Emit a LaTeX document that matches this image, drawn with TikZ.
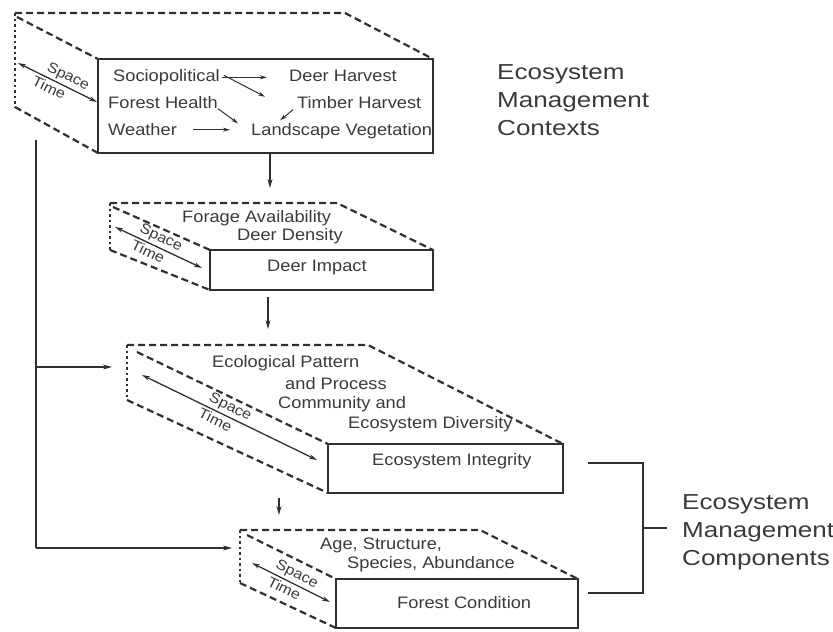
\documentclass[tikz,border=0pt]{standalone}
\usepackage{fontspec}
\setmainfont{Liberation Sans}[FakeStretch=1.1]
\newfontfamily\labelfont{Liberation Sans}[FakeStretch=1.2]
\usetikzlibrary{arrows.meta,calc}
\definecolor{inkc}{HTML}{303030}
\definecolor{textc}{HTML}{3A3A3A}
\begin{document}
\begin{tikzpicture}[x=1pt,y=-1pt,
  solidbox/.style={draw=inkc, line width=2.6pt, inner sep=0pt, outer sep=0pt, anchor=north west},
  dashedge/.style={draw=inkc, line width=2.2pt, dash pattern=on 7pt off 4pt},
  dotedge/.style={draw=inkc, line width=2.4pt, dash pattern=on 2.5pt off 3pt},
  txt/.style={text=textc, font=\fontsize{16.6}{19}\selectfont, inner sep=0pt, anchor=mid west},
  st/.style={text=textc, font=\fontsize{14.5}{16}\selectfont, inner sep=2.2pt, sloped},
  conn/.style={draw=inkc, line width=1.2pt, -{Stealth[length=9pt,width=5pt]}},
  smallconn/.style={draw=inkc, line width=1pt, -{Stealth[length=7pt,width=4pt]}},
  plainline/.style={draw=inkc, line width=1.3pt},
  stv/.style={draw=inkc, line width=1.3pt, {Stealth[length=8pt,width=4.5pt]}-{Stealth[length=8pt,width=4.5pt]}},
  lab/.style={text=textc, font=\labelfont\fontsize{21.7}{28}\selectfont, align=left, anchor=west, inner sep=0pt},
]
\useasboundingbox (0,0) rectangle (833,632);

% ---------- Box 1: contexts ----------
\node[solidbox, minimum width=335, minimum height=94] (b1) at (98,59) {};
\coordinate (t1) at (15,13); \coordinate (r1) at (345,13); \coordinate (l1) at (15,107);
\coordinate (i1) at (17,17);
\draw[dashedge] (t1) -- (r1) -- (b1.north east);
\draw[dotedge] (t1) -- (l1);
\draw[dashedge] (l1) -- (b1.south west);
\draw[dashedge] (i1) -- (b1.north west);
\coordinate (s1a) at (18,63); \coordinate (s1b) at (97,102);
\draw[stv] (s1a) -- (s1b) node[st, pos=0.58, above] {Space} node[st, pos=0.44, below] {Time};

\node[txt] (soc) at (113,79) {Sociopolitical};
\node[txt] (deer) at (289,79) {Deer Harvest};
\node[txt] (fh) at (108,106) {Forest Health};
\node[txt] (timb) at (297,106) {Timber Harvest};
\node[txt] (wea) at (108,133) {Weather};
\node[txt] (land) at (251,133) {Landscape Vegetation};
\draw[smallconn, shorten <=2pt, shorten >=22pt] (soc.east) -- (soc.east -| deer.west);
\draw[smallconn] ($(soc.east)+(4,-2)$) -- ($(timb.west)+(-32,-6)$);
\draw[smallconn] ($(fh.east)+(0,6)$) -- ($(land.west)+(-13,-8)$);
\draw[smallconn] ($(timb.west)+(-4,7)$) -- ($(land.west)+(29,-11)$);
\draw[smallconn, shorten <=16pt, shorten >=21pt] (wea.east) -- (wea.east -| land.west);

\node[lab] (ctx) at (497,100) {Ecosystem\\Management\\Contexts};

% ---------- Box 2: deer impact ----------
\node[solidbox, minimum width=223, minimum height=40] (b2) at (210,250) {};
\coordinate (t2) at (110,203); \coordinate (r2) at (337,203); \coordinate (l2) at (110,250);
\coordinate (i2) at (113,207);
\draw[dashedge] (t2) -- (r2) -- (b2.north east);
\draw[dotedge] (t2) -- (l2);
\draw[dashedge] (l2) -- (b2.south west);
\draw[dashedge] (i2) -- (b2.north west);
\coordinate (s2a) at (115,227); \coordinate (s2b) at (202,268);
\draw[stv] (s2a) -- (s2b) node[st, pos=0.48, above] {Space} node[st, pos=0.42, below] {Time};
\node[txt] (forage) at (182,220) {Forage Availability};
\node[txt] (dens) at (237,238) {Deer Density};
\node[txt] (imp) at (267,269) {Deer Impact};

% ---------- Box 3: ecosystem integrity ----------
\node[solidbox, minimum width=235, minimum height=49] (b3) at (328,444) {};
\coordinate (t3) at (127,345); \coordinate (r3) at (368,345); \coordinate (l3) at (127,400);
\coordinate (i3) at (137,352);
\draw[dashedge] (t3) -- (r3) -- (b3.north east);
\draw[dotedge] (t3) -- (l3);
\draw[dashedge] (l3) -- (b3.south west);
\draw[dashedge] (i3) -- (b3.north west);
\coordinate (s3a) at (142,375); \coordinate (s3b) at (317,460);
\draw[stv] (s3a) -- (s3b) node[st, pos=0.48, above] {Space} node[st, pos=0.44, below] {Time};
\node[txt] (ecp) at (212,365) {Ecological Pattern};
\node[txt] (proc) at (285,387) {and Process};
\node[txt] (comm) at (278,406) {Community and};
\node[txt] (div) at (348,426) {Ecosystem Diversity};
\node[txt] (integ) at (372,463) {Ecosystem Integrity};

% ---------- Box 4: forest condition ----------
\node[solidbox, minimum width=242, minimum height=49] (b4) at (336,579) {};
\coordinate (t4) at (240,530); \coordinate (r4) at (480,530); \coordinate (l4) at (240,583);
\coordinate (i4) at (247,535);
\draw[dashedge] (t4) -- (r4) -- (b4.north east);
\draw[dotedge] (t4) -- (l4);
\draw[dashedge] (l4) -- (b4.south west);
\draw[dashedge] (i4) -- (b4.north west);
\coordinate (s4a) at (252,563); \coordinate (s4b) at (330,602);
\draw[stv] (s4a) -- (s4b) node[st, pos=0.52, above] {Space} node[st, pos=0.46, below] {Time};
\node[txt] (age) at (320,547) {Age, Structure,};
\node[txt] (spec) at (347,566) {Species, Abundance};
\node[txt] (fc) at (397,606) {Forest Condition};

% ---------- vertical flow arrows ----------
\coordinate (a1s) at (270,153); \coordinate (a1e) at (270,188);
\draw[conn] (a1s) -- (a1e);
\coordinate (a2s) at (268,297); \coordinate (a2e) at (268,329);
\draw[conn] (a2s) -- (a2e);
\coordinate (a3s) at (279,498); \coordinate (a3e) at (279,515);
\draw[conn] (a3s) -- (a3e);

% ---------- feedback line on the left ----------
\coordinate (fbtop) at (36,140); \coordinate (fbmid) at (36,367); \coordinate (fbbot) at (36,548);
\coordinate (in3) at (112,367); \coordinate (in4) at (232,548);
\draw[plainline] (fbtop) -- (fbbot);
\draw[conn] (fbmid) -- (in3);
\draw[conn] (fbbot) -- (in4);

% ---------- components bracket ----------
\coordinate (bk1) at (588,463); \coordinate (bk2) at (643,463);
\coordinate (bk3) at (643,593); \coordinate (bk4) at (588,593);
\coordinate (bkm) at (643,528); \coordinate (bkt) at (667,528);
\draw[plainline] (bk1) -- (bk2) -- (bk3) -- (bk4);
\draw[plainline] (bkm) -- (bkt);
\node[lab] (comp) at (682,532) {Ecosystem\\Management\\Components};
\end{tikzpicture}
\end{document}
